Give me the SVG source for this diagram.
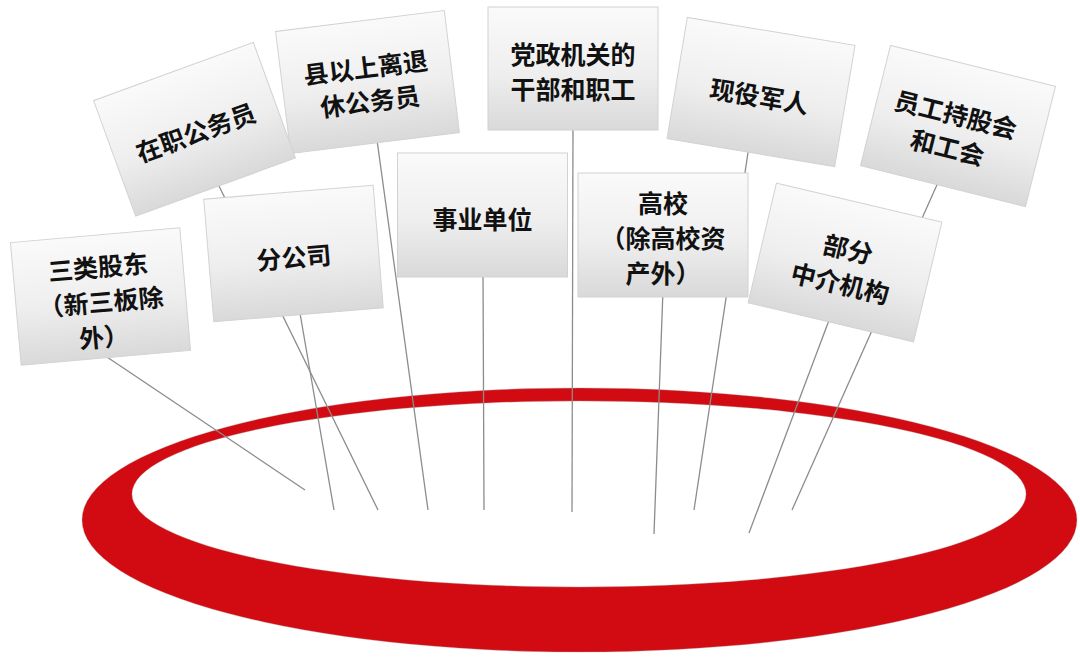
<svg xmlns="http://www.w3.org/2000/svg" width="1080" height="660" viewBox="0 0 1080 660">
<defs>
<linearGradient id="cardGrad" x1="0" y1="0" x2="0" y2="1">
<stop offset="0" stop-color="#fafafa"/>
<stop offset="0.55" stop-color="#eeeeee"/>
<stop offset="1" stop-color="#d9d9d9"/>
</linearGradient>
<style>
.card rect{fill:url(#cardGrad);stroke:#d2d2d2;stroke-width:1}
.card text{font-family:"Noto Sans CJK SC","Noto Sans",sans-serif;font-weight:700;font-size:25px;fill:#111;text-anchor:middle;dominant-baseline:central}
.conn line{stroke:#8c8c8c;stroke-width:1.3;fill:none}
</style>
</defs>
<rect width="1080" height="660" fill="#ffffff"/>
<g id="ring">
<path d="M82,520 a497.5,132 0 1,0 995,0 a497.5,132 0 1,0 -995,0 Z M132,494 a447,93 0 1,0 894,0 a447,93 0 1,0 -894,0 Z" fill="#d20a11" fill-rule="evenodd" stroke="#b0b0b0" stroke-opacity="0.35" stroke-width="1"/>
</g>
<g id="connectors" class="conn">
<line x1="104" y1="355" x2="305" y2="490"/>
<line x1="218.5" y1="185" x2="378" y2="510"/>
<line x1="296" y1="290" x2="334" y2="510"/>
<line x1="377" y1="140" x2="428" y2="510"/>
<line x1="483" y1="270" x2="484" y2="510"/>
<line x1="573" y1="125" x2="572" y2="512"/>
<line x1="663" y1="290" x2="654" y2="534"/>
<line x1="749" y1="146" x2="694" y2="510"/>
<line x1="940" y1="178" x2="792" y2="510"/>
<line x1="831" y1="315" x2="749" y2="533"/>
</g>
<g id="node-xianyishang" class="card" transform="translate(367.5,82) rotate(-7.1)">
<rect x="-85" y="-61.5" width="170" height="123"/>
<text x="0" y="-16">县以上离退</text>
<text x="0" y="18">休公务员</text>
</g>
<g id="node-zaizhi" class="card" transform="translate(194.5,129.3) rotate(-20)">
<rect x="-85" y="-61.5" width="170" height="123"/>
<text x="0" y="2">在职公务员</text>
</g>
<g id="node-dangzheng" class="card" transform="translate(573,68.5)">
<rect x="-85" y="-61.5" width="170" height="123"/>
<text x="0" y="-16">党政机关的</text>
<text x="0" y="19">干部和职工</text>
</g>
<g id="node-xianyi" class="card" transform="translate(761,92) rotate(9.5)">
<rect x="-85" y="-61.5" width="170" height="123"/>
<text x="-1" y="3">现役军人</text>
</g>
<g id="node-yuangong" class="card" transform="translate(958,126) rotate(14)">
<rect x="-85" y="-62" width="170" height="124"/>
<text x="-5" y="-12">员工持股会</text>
<text x="-5" y="22">和工会</text>
</g>
<g id="node-sanlei" class="card" transform="translate(100.5,296.5) rotate(-5)">
<rect x="-85" y="-61.5" width="170" height="123"/>
<text x="0" y="-31">三类股东</text>
<text x="0" y="4">（新三板除</text>
<text x="0" y="39">外）</text>
</g>
<g id="node-fengongsi" class="card" transform="translate(293.5,253.5) rotate(-4.7)">
<rect x="-85" y="-61.5" width="170" height="123"/>
<text x="0" y="2.5">分公司</text>
</g>
<g id="node-shiye" class="card" transform="translate(482.5,215)">
<rect x="-85" y="-62" width="170" height="124"/>
<text x="0" y="3">事业单位</text>
</g>
<g id="node-gaoxiao" class="card" transform="translate(663,235)">
<rect x="-85" y="-62" width="170" height="124"/>
<text x="0" y="-33">高校</text>
<text x="0" y="2">（除高校资</text>
<text x="0" y="37">产外）</text>
</g>
<g id="node-zhongjie" class="card" transform="translate(845,262.5) rotate(13.3)">
<rect x="-85" y="-61.5" width="170" height="123"/>
<text x="0" y="-15">部分</text>
<text x="0" y="20">中介机构</text>
</g>
</svg>
